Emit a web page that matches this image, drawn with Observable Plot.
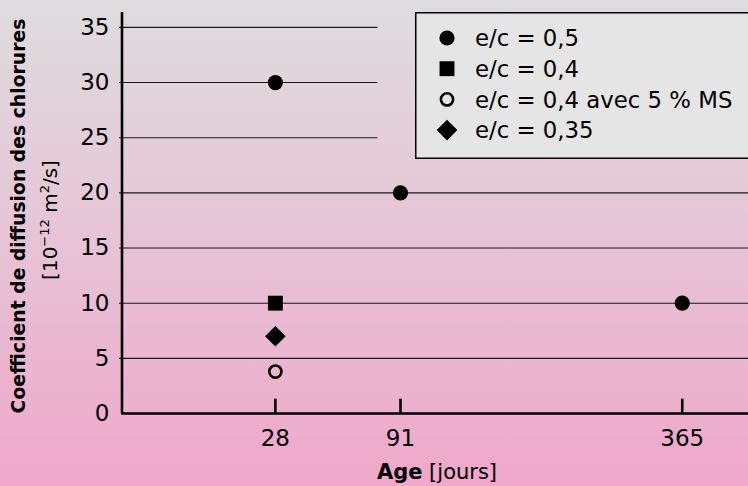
<!DOCTYPE html>
<html>
<head>
<meta charset="utf-8">
<script src="https://cdn.jsdelivr.net/npm/d3@7"></script>
<script src="https://cdn.jsdelivr.net/npm/@observablehq/plot@0.6"></script>
<style>
  html, body { margin: 0; padding: 0; }
  body { width: 748px; height: 486px; overflow: hidden;
         background: linear-gradient(to bottom, #dedcde 0%, #e6c6d6 45%, #efa7ca 100%);
         font-family: "DejaVu Sans", sans-serif; }
  #chart { position: relative; width: 748px; height: 486px; }
</style>
</head>
<body>
<div id="chart"></div>
<script>
// ---- data ----
const ageTicks = [28, 91, 365];
const yTicks = [0, 5, 10, 15, 20, 25, 30, 35];
const seriesNames = ["e/c = 0,5", "e/c = 0,4", "e/c = 0,4 avec 5 % MS", "e/c = 0,35"];
const pointAge    = [28, 91, 365, 28, 28, 28];
const pointValue  = [30, 20, 10, 10, 3.8, 7];
const pointSeries = ["e/c = 0,5", "e/c = 0,5", "e/c = 0,5", "e/c = 0,4", "e/c = 0,4 avec 5 % MS", "e/c = 0,35"];
const gridValues = [5, 10, 15, 20, 25, 30, 35];
const gridEnd    = [456, 456, 456, 456, 77, 77, 77];

const points = pointAge.map((a, i) => ({age: a, value: pointValue[i], series: pointSeries[i]}));
const grid = gridValues.map((v, i) => ({y: v, x2: gridEnd[i]}));

// marker styles per series
const styles = {
  "e/c = 0,5": {symbol: "circle", r: 7.6, fill: "black", stroke: "none", sw: 0},
  "e/c = 0,4": {symbol: "square", r: 8.4, fill: "black", stroke: "none", sw: 0},
  "e/c = 0,4 avec 5 % MS": {symbol: "circle", r: 6.1, fill: "none", stroke: "black", sw: 2.6},
  "e/c = 0,35": {symbol: "diamond2", r: 9.3, fill: "black", stroke: "none", sw: 0}
};

const FONT = "DejaVu Sans";

const plot = Plot.plot({
  width: 748,
  height: 486,
  marginLeft: 121,
  marginRight: 0,
  marginTop: 12,
  marginBottom: 73,
  style: {background: "transparent", fontFamily: FONT, color: "black", overflow: "visible"},
  x: {type: "sqrt", domain: [0, 456], range: [119, 748]},
  y: {domain: [0, 36.35]},
  marks: [
    Plot.ruleY(grid, {y: "y", x1: 0, x2: "x2", stroke: "#1a1a1a", strokeWidth: 1.1}),
    Plot.ruleX(ageTicks, {x: d => d, y1: 0, y2: 1.3, stroke: "black", strokeWidth: 2.6}),
    Plot.ruleY([0], {stroke: "black", strokeWidth: 2.6}),
    Plot.ruleX([0], {dx: 2.5, stroke: "black", strokeWidth: 2.6}),
    Plot.axisX({ticks: ageTicks, tickSize: 0, tickPadding: 16, fontSize: 23, label: null, tickFormat: d => String(d)}),
    Plot.axisY({ticks: yTicks, tickSize: 0, tickPadding: 12, fontSize: 23, label: null}),
    ...seriesNames.map(s => Plot.dot(points.filter(p => p.series === s), {
      x: "age", y: "value", symbol: () => styles[s].symbol, r: styles[s].r,
      fill: styles[s].fill, stroke: styles[s].stroke, strokeWidth: styles[s].sw
    }))
  ]
});

document.getElementById("chart").appendChild(plot);

const svg = d3.select(plot);

// legend
const lg = svg.append("g").attr("transform", "translate(415,12)").attr("text-anchor", "start");
lg.append("rect").attr("x", 0.75).attr("y", 0.75).attr("width", 340).attr("height", 145.5)
  .attr("fill", "#e6e5e6").attr("stroke", "black").attr("stroke-width", 1.5);
const symMap = {circle: d3.symbolCircle, square: d3.symbolSquare, diamond2: d3.symbolDiamond2};
seriesNames.forEach((s, i) => {
  const st = styles[s];
  const cy = 26 + i * 30.7;
  lg.append("path")
    .attr("transform", `translate(32,${cy})`)
    .attr("d", d3.symbol(symMap[st.symbol], Math.PI * st.r * st.r)())
    .attr("fill", st.fill).attr("stroke", st.stroke).attr("stroke-width", st.sw);
  lg.append("text").attr("x", 60).attr("y", cy).attr("dy", "0.36em").attr("text-anchor", "start")
    .attr("font-size", 22.8).attr("font-family", FONT).attr("fill", "black").text(s);
});

// x axis title
const xt = svg.append("text").attr("x", 437).attr("y", 479).attr("text-anchor", "middle")
  .attr("font-size", 21).attr("font-family", FONT).attr("fill", "black");
xt.append("tspan").attr("font-weight", "bold").text("Age");
xt.append("tspan").text(" [jours]");

// y axis title
const yt = svg.append("g");
yt.append("text").attr("transform", "translate(25,216) rotate(-90)").attr("text-anchor", "middle")
  .attr("font-size", 18.8).attr("font-weight", "bold").attr("font-family", FONT).attr("fill", "black")
  .text("Coefficient de diffusion des chlorures");
const y2 = yt.append("text").attr("transform", "translate(57,220) rotate(-90)").attr("text-anchor", "middle")
  .attr("font-size", 20).attr("font-family", FONT).attr("fill", "black");
y2.append("tspan").text("[10");
y2.append("tspan").attr("font-size", 13).attr("dy", -8).text("−12");
y2.append("tspan").attr("dy", 8).text(" m");
y2.append("tspan").attr("font-size", 13).attr("dy", -8).text("2");
y2.append("tspan").attr("dy", 8).text("/s]");
</script>
</body>
</html>
